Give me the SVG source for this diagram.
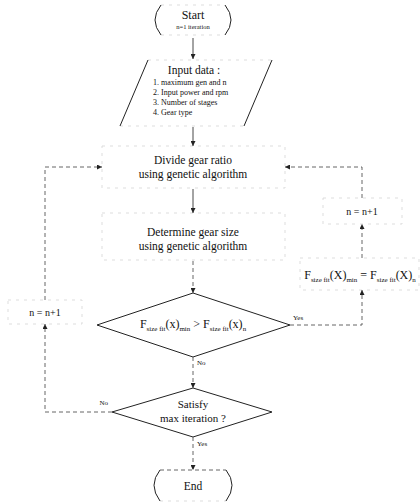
<svg xmlns="http://www.w3.org/2000/svg" width="420" height="502" viewBox="0 0 420 502" font-family="'Liberation Serif', 'Times New Roman', serif">
<defs>
<marker id="ah" viewBox="0 0 10 10" refX="10" refY="5" markerWidth="5" markerHeight="5" orient="auto-start-reverse" markerUnits="userSpaceOnUse">
<path d="M0,0 L10,5 L0,10 z" fill="#222"/>
</marker>
<style>
text{font-family:'Liberation Serif','Times New Roman',serif;fill:#111}
.t{font-size:11.5px;text-anchor:middle}
.s{font-size:8px}
.lbl{font-size:7px}
.dark{fill:none;stroke:#222;stroke-width:1}
.faint{fill:none;stroke:#d4d4d4;stroke-width:0.8;stroke-dasharray:3 5}
.c{fill:none;stroke:#333;stroke-width:0.9}
.cd{fill:none;stroke:#555;stroke-width:0.9;stroke-dasharray:4 3}
</style>
</defs>
<rect width="420" height="502" fill="#fff"/>

<g id="start">
<path class="faint" d="M161,5 H225 M161,35 H225"/>
<path class="dark" d="M161,5 Q149,20 161,35 M225,5 Q237,20 225,35"/>
<text class="t" x="193" y="19" style="font-size:12px">Start</text>
<text class="lbl" x="193" y="29" text-anchor="middle" style="font-size:6.5px">n=1 iteration</text>
</g>

<g id="input">
<path class="faint" d="M148,60 H272 M120,126 H244"/>
<path class="dark" d="M148,60 L120,126 M272,60 L244,126"/>
<text class="t" x="194" y="74">Input data :</text>
<text class="s" x="153" y="85">1. maximum gen and  n</text>
<text class="s" x="153" y="95">2. Input power and rpm</text>
<text class="s" x="153" y="105">3. Number of stages</text>
<text class="s" x="153" y="115">4. Gear type</text>
</g>

<g id="divide">
<rect class="faint" x="102" y="146" width="183" height="42"/>
<text class="t" x="193" y="164">Divide gear ratio</text>
<text class="t" x="193" y="178">using genetic algorithm</text>
</g>

<g id="determine">
<rect class="faint" x="102" y="213" width="183" height="47"/>
<text class="t" x="193" y="236">Determine gear size</text>
<text class="t" x="193" y="250">using genetic algorithm</text>
</g>

<g id="compare">
<path class="dark" d="M193,293 L290,325 L193,357 L97,325 Z"/>
<text x="193" y="328" text-anchor="middle" style="font-size:12px">F<tspan dy="2.5" style="font-size:7px">size fit</tspan><tspan dy="-2.5">(x)</tspan><tspan dy="2.5" style="font-size:7px">min</tspan><tspan dy="-2.5"> &gt; F</tspan><tspan dy="2.5" style="font-size:7px">size fit</tspan><tspan dy="-2.5">(x)</tspan><tspan dy="2.5" style="font-size:7px">n</tspan></text>
</g>

<g id="satisfy">
<path class="dark" d="M193,388 L272,412 L193,437 L112,412 Z"/>
<text class="t" x="193" y="408" style="font-size:11px">Satisfy</text>
<text class="t" x="193" y="422" style="font-size:11px">max iteration ?</text>
</g>

<g id="end">
<path class="faint" d="M160,501 H226"/>
<path class="cd" d="M160,470 H226"/>
<path class="dark" d="M160,470 Q148,485 160,501 M226,470 Q238,485 226,501"/>
<text class="t" x="193" y="490">End</text>
</g>

<g id="inc-left">
<rect class="faint" x="8" y="300" width="74" height="24"/>
<text x="45" y="316" text-anchor="middle" style="font-size:10px">n = n+1</text>
</g>

<g id="inc-right">
<rect class="faint" x="323" y="198" width="79" height="26"/>
<text x="362" y="215" text-anchor="middle" style="font-size:10px">n = n+1</text>
</g>

<g id="update">
<rect class="faint" x="300" y="258" width="119" height="32"/>
<text x="360" y="279" text-anchor="middle" style="font-size:12px">F<tspan dy="2.5" style="font-size:7px">size fit</tspan><tspan dy="-2.5">(X)</tspan><tspan dy="2.5" style="font-size:7px">min</tspan><tspan dy="-2.5"> = F</tspan><tspan dy="2.5" style="font-size:7px">size fit</tspan><tspan dy="-2.5">(X)</tspan><tspan dy="2.5" style="font-size:7px">n</tspan></text>
</g>

<g id="connectors">
<path class="c" d="M193,38 V59" marker-end="url(#ah)"/>
<path class="c" d="M193,127 V146" marker-end="url(#ah)"/>
<path class="c" d="M193,189 V213" marker-end="url(#ah)"/>
<path class="cd" d="M193,261 V293" marker-end="url(#ah)"/>
<path class="cd" d="M193,357 V388" marker-end="url(#ah)"/>
<path class="cd" d="M193,437 V470" marker-end="url(#ah)"/>
<path class="cd" d="M112,412 H45 V324" marker-end="url(#ah)"/>
<path class="cd" d="M45,300 V167 H102" marker-end="url(#ah)"/>
<path class="cd" d="M290,325 H362 V290" marker-end="url(#ah)"/>
<path class="cd" d="M362,258 V224" marker-end="url(#ah)"/>
<path class="cd" d="M362,198 V167 H285" marker-end="url(#ah)"/>
<text class="lbl" x="197" y="365">No</text>
<text class="lbl" x="197" y="446">Yes</text>
<text class="lbl" x="108" y="405" text-anchor="end">No</text>
<text class="lbl" x="293" y="320">Yes</text>
</g>
</svg>
